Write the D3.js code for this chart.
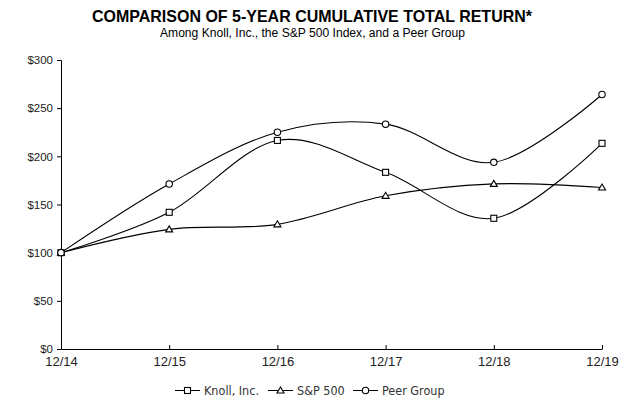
<!DOCTYPE html>
<html><head><meta charset="utf-8">
<script src="https://cdn.jsdelivr.net/npm/d3@7"></script>
<style>body{margin:0;background:#fff}svg{display:block}</style>
</head><body>
<svg id="c" width="629" height="417"></svg>
<script>
const categories = ["12/14","12/15","12/16","12/17","12/18","12/19"];
const knoll = [100, 141.9, 216.5, 183.4, 135.7, 213.5];
const sp500 = [100, 124.2, 129.4, 159.0, 171.4, 167.6];
const peer  = [100, 171.3, 225.0, 233.4, 193.8, 264.2];
const yTicks = [0, 50, 100, 150, 200, 250, 300];
const seriesNames = ["Knoll, Inc.", "S&P 500", "Peer Group"];
const seriesMarkers = ["square", "triangle", "circle"];

const svg = d3.select("#c");
const x = d3.scalePoint().domain(categories).range([61, 602]);
const y = d3.scaleLinear().domain([0, 300]).range([349, 60]);

// Titles
svg.append("text").attr("x", 312).attr("y", 22).attr("text-anchor", "middle")
  .attr("font-family", "Liberation Sans, Arial, sans-serif").attr("font-weight", "bold")
  .attr("font-size", 16.5).attr("textLength", 440).attr("lengthAdjust", "spacingAndGlyphs")
  .attr("fill", "#000").text("COMPARISON OF 5-YEAR CUMULATIVE TOTAL RETURN*");
svg.append("text").attr("x", 312.5).attr("y", 37).attr("text-anchor", "middle")
  .attr("font-family", "Liberation Sans, Arial, sans-serif")
  .attr("font-size", 12.5).attr("textLength", 305).attr("lengthAdjust", "spacingAndGlyphs")
  .attr("fill", "#000").text("Among Knoll, Inc., the S&P 500 Index, and a Peer Group");

// Y axis
const yAxis = svg.append("g").attr("transform", "translate(61,0)")
  .call(d3.axisLeft(y).tickValues(yTicks).tickSize(4).tickPadding(4).tickFormat(d => "$" + d));
yAxis.select(".domain").attr("stroke", "#000").attr("stroke-width", 1);
yAxis.selectAll(".tick line").attr("stroke", "#000");
yAxis.selectAll("text").attr("font-family", "Liberation Sans, Arial, sans-serif")
  .attr("font-size", 11.5).attr("fill", "#222");

// X axis (ticks inward)
const xAxis = svg.append("g").attr("transform", "translate(0,349)")
  .call(d3.axisBottom(x).tickSizeInner(-4).tickSizeOuter(0).tickPadding(8));
xAxis.select(".domain").attr("stroke", "#000").attr("stroke-width", 1);
xAxis.selectAll(".tick line").attr("stroke", "#000");
xAxis.selectAll("text").attr("font-family", "Liberation Sans, Arial, sans-serif")
  .attr("font-size", 13).attr("fill", "#222");

// Series
const allSeries = [knoll, sp500, peer];
const line = d3.line().x((d, i) => x(categories[i])).y(d => y(d)).curve(d3.curveCatmullRom.alpha(0));

function marker(g, type, cx, cy) {
  if (type === "square") {
    g.append("rect").attr("x", cx - 3).attr("y", cy - 3).attr("width", 6).attr("height", 6)
      .attr("fill", "#fff").attr("stroke", "#000").attr("stroke-width", 1.1);
  } else if (type === "triangle") {
    g.append("path").attr("d", `M${cx},${cy - 3.5}L${cx + 3.5},${cy + 2.5}L${cx - 3.5},${cy + 2.5}Z`)
      .attr("fill", "#fff").attr("stroke", "#000").attr("stroke-width", 1.1);
  } else {
    g.append("circle").attr("cx", cx).attr("cy", cy).attr("r", 3.2)
      .attr("fill", "#fff").attr("stroke", "#000").attr("stroke-width", 1.1);
  }
}

allSeries.forEach((vals, si) => {
  svg.append("path").datum(vals).attr("d", line).attr("fill", "none")
    .attr("stroke", "#000").attr("stroke-width", 1.1);
});
allSeries.forEach((vals, si) => {
  const g = svg.append("g");
  vals.forEach((v, i) => marker(g, seriesMarkers[si], x(categories[i]), y(v)));
});

// Legend
const legendX = [175, 268, 353];
const ly = 390.5;
seriesNames.forEach((name, i) => {
  const g = svg.append("g");
  g.append("line").attr("x1", legendX[i]).attr("x2", legendX[i] + 25).attr("y1", ly).attr("y2", ly)
    .attr("stroke", "#000").attr("stroke-width", 1);
  marker(g, seriesMarkers[i], legendX[i] + 12.5, ly);
  g.append("text").attr("x", legendX[i] + 29).attr("y", ly + 4)
    .attr("font-family", "Liberation Sans Narrow, DejaVu Sans Condensed, sans-serif")
    .attr("font-size", 12.5).attr("fill", "#333").text(name);
});
</script>
</body></html>
